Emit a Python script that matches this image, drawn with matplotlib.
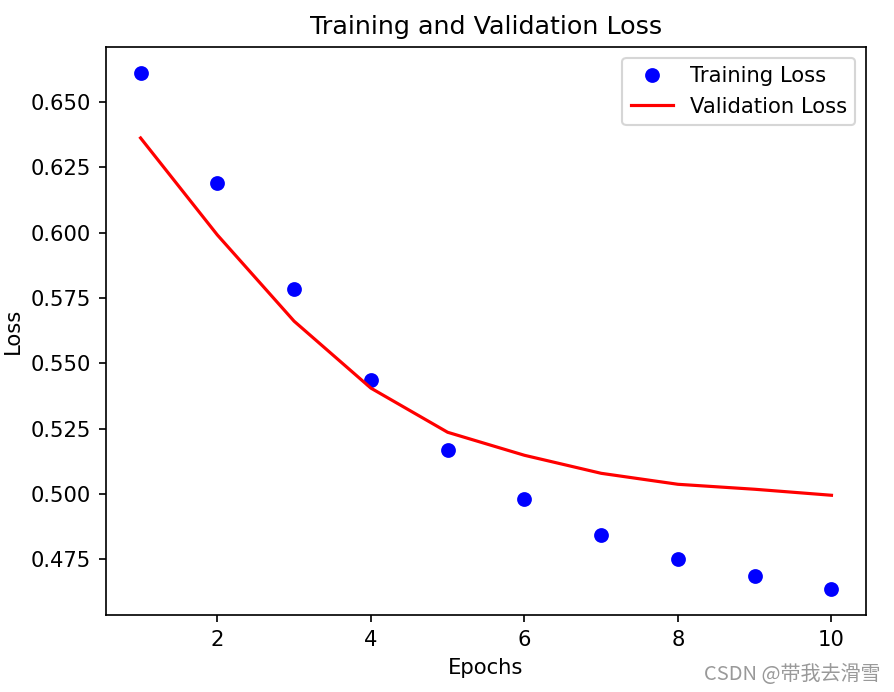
import matplotlib
matplotlib.use("Agg")
import matplotlib.pyplot as plt

epochs = [1, 2, 3, 4, 5, 6, 7, 8, 9, 10]
train_loss = [0.6611, 0.6190, 0.5784, 0.5436, 0.5168, 0.4980, 0.4842, 0.4750, 0.4685, 0.4635]
val_loss = [0.6362, 0.5991, 0.5661, 0.5405, 0.5236, 0.5148, 0.5079, 0.5037, 0.5018, 0.4995]

dpi = 152
fig = plt.figure(figsize=(894 / dpi, 692 / dpi), dpi=dpi)
ax = fig.add_axes([0.1186, 0.111, 0.8501, 0.821])
ax.plot(epochs, train_loss, 'bo', label='Training Loss')
ax.plot(epochs, val_loss, 'r', label='Validation Loss')
ax.set_title('Training and Validation Loss')
ax.set_xlabel('Epochs')
ax.set_ylabel('Loss')
ax.legend()

fig.text(0.985, 0.01, 'CSDN @带我去滑雪', ha='right', va='bottom', color='#999999',
         fontsize=9.5, family=['Noto Sans CJK SC', 'DejaVu Sans'])

fig.savefig('out.png', dpi=dpi)
